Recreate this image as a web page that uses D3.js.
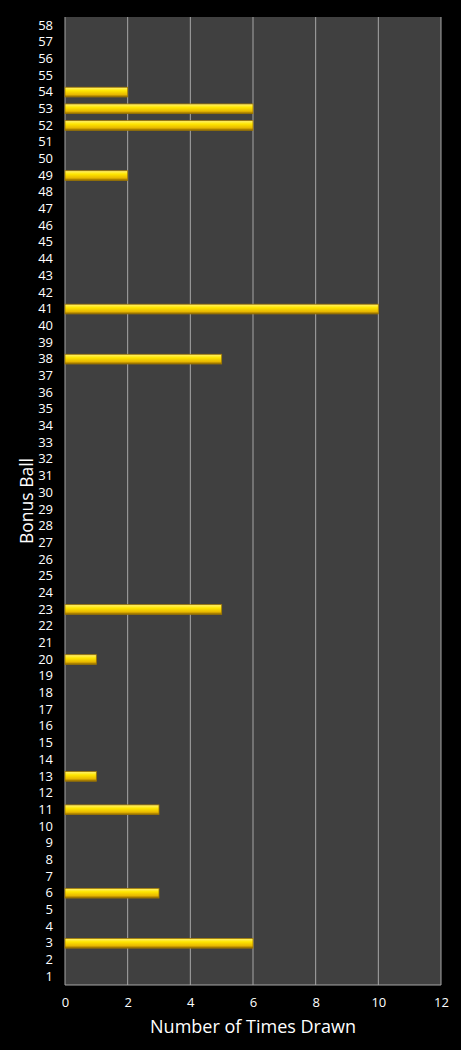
<!DOCTYPE html>
<html>
<head>
<meta charset="utf-8">
<script src="https://cdn.jsdelivr.net/npm/d3@7"></script>
<style>
  body { margin: 0; background: #000; }
  text { font-family: "Open Sans", "DejaVu Sans", sans-serif; fill: #fff; }
</style>
</head>
<body>
<div id="chart"></div>
<script>
// Bonus ball numbers 1..58 and how often each was drawn
const balls = d3.range(1, 59);
const drawnBalls = [3, 6, 11, 13, 20, 23, 38, 41, 49, 52, 53, 54];
const drawnCounts = [6, 3, 3, 1, 1, 5, 5, 10, 2, 6, 6, 2];
const xTicks = [0, 2, 4, 6, 8, 10, 12];

const width = 461, height = 1050;
const margin = { top: 17, right: 20, bottom: 65, left: 65 };
const innerW = width - margin.left - margin.right;
const innerH = height - margin.top - margin.bottom;

const counts = new Map(drawnBalls.map((b, i) => [b, drawnCounts[i]]));

const svg = d3.select("#chart").append("svg")
    .attr("width", width)
    .attr("height", height);

const defs = svg.append("defs");
const grad = defs.append("linearGradient")
    .attr("id", "barGrad")
    .attr("x1", 0).attr("y1", 0).attr("x2", 0).attr("y2", 1);
grad.append("stop").attr("offset", "0%").attr("stop-color", "#fff27a");
grad.append("stop").attr("offset", "35%").attr("stop-color", "#ffe600");
grad.append("stop").attr("offset", "75%").attr("stop-color", "#e8b800");
grad.append("stop").attr("offset", "100%").attr("stop-color", "#8a6500");

const g = svg.append("g").attr("transform", `translate(${margin.left},${margin.top})`);

const x = d3.scaleLinear().domain([0, 12]).range([0, innerW]);
const y = d3.scaleBand()
    .domain(balls.slice().reverse())
    .range([0, innerH])
    .paddingInner(0.42)
    .paddingOuter(0.21);

// plot background
g.append("rect")
    .attr("width", innerW)
    .attr("height", innerH)
    .attr("fill", "#404040");

// vertical gridlines
g.append("g")
    .selectAll("line")
    .data(xTicks)
    .join("line")
    .attr("x1", d => x(d)).attr("x2", d => x(d))
    .attr("y1", 0).attr("y2", innerH)
    .attr("stroke", "#a6a6a6")
    .attr("stroke-width", 1);

g.append("line")
    .attr("x1", 0).attr("x2", innerW)
    .attr("y1", innerH).attr("y2", innerH)
    .attr("stroke", "#a6a6a6");

// bars
g.append("g")
    .selectAll("rect")
    .data(drawnBalls)
    .join("rect")
    .attr("x", x(0))
    .attr("y", d => y(d))
    .attr("width", d => x(counts.get(d)) - x(0))
    .attr("height", y.bandwidth())
    .attr("fill", "url(#barGrad)")
    .attr("stroke", "#a07800")
    .attr("stroke-width", 0.8);

// y axis labels
const yAxis = g.append("g")
    .call(d3.axisLeft(y).tickSize(0).tickPadding(12));
yAxis.select(".domain").remove();
yAxis.selectAll("text")
    .style("font-size", "13px")
    .attr("fill", "#fff");

// x axis labels
const xAxis = g.append("g")
    .attr("transform", `translate(0,${innerH})`)
    .call(d3.axisBottom(x).tickValues(xTicks).tickSize(0).tickPadding(13));
xAxis.select(".domain").remove();
xAxis.selectAll("text")
    .style("font-size", "13px")
    .attr("fill", "#fff");

// axis titles
svg.append("text")
    .attr("x", margin.left + innerW / 2)
    .attr("y", 1033)
    .attr("text-anchor", "middle")
    .style("font-size", "18px")
    .text("Number of Times Drawn");

svg.append("text")
    .attr("transform", `translate(33,${margin.top + innerH / 2}) rotate(-90)`)
    .attr("text-anchor", "middle")
    .style("font-size", "17.5px")
    .text("Bonus Ball");
</script>
</body>
</html>
